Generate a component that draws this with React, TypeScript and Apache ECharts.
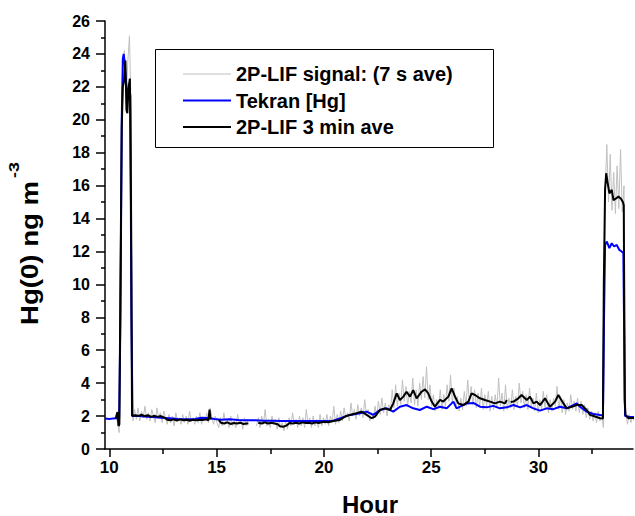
import { useEffect, useRef } from "react";
import * as echarts from "echarts";

const FONT = "'Liberation Sans', Arial, sans-serif";

// x-axis tick labels (hours) and minor tick positions
const xTickHours = [10, 15, 20, 25, 30];
const xMinorHours = [12.5, 17.5, 22.5, 27.5, 32.5];

const seriesNames = ["2P-LIF signal: (7 s ave)", "Tekran [Hg]", "2P-LIF 3 min ave"];
const seriesColors = ["#c0c0c0", "#0000ff", "#000000"];

// 2P-LIF 7 s average record: sampled every greyStep hours from greyStart
const greyStart = 10.3;
const greyStep = 0.08;
const greyValues: (number | null)[] = [
  2.1, 1.6, 1.0, 15.5, 22.5, 24.2, 21.0, 23.5, 25.1, 20.5,
  1.7, 2.4, 1.8, 2.5, 1.7, 2.3, 1.9, 2.6, 1.8, 2.2,
  1.7, 2.4, 2.0, 1.6, 2.5, 1.9, 2.2, 1.6, 2.3, 1.9,
  1.5, 2.1, 1.6, 2.0, 1.4, 2.2, 1.7, 1.9, 1.5, 2.1,
  1.6, 2.0, 1.5, 2.3, 1.7, 1.9, 1.5, 2.0, 1.6, 2.2,
  1.5, 1.9, 1.7, 2.2, 1.6, 2.5, 1.9, 1.5, 2.0, 1.6,
  1.3, 1.9, 1.4, 2.2, 1.5, 1.8, 1.3, 2.0, 1.4, 1.7,
  1.3, 2.1, 1.5, 1.8, 1.2, 1.9, 1.4, 1.8, null, null,
  null, null, 1.4, 1.9, 1.3, 2.0, 1.5, 2.4, 1.4, 1.8,
  1.3, 2.0, 1.5, 1.8, 1.2, 1.9, 1.3, 1.6, 1.1, 1.7,
  1.2, 1.9, 1.4, 2.2, 1.5, 1.8, 1.3, 2.0, 1.4, 1.9,
  1.3, 2.4, 1.5, 1.9, 1.3, 2.0, 1.4, 1.8, 1.3, 2.1,
  1.4, 1.9, 1.5, 2.1, 1.4, 2.0, 1.6, 2.6, 1.5, 2.1,
  1.6, 2.3, 1.7, 2.5, 1.9, 2.2, 1.7, 2.8, 2.0, 2.4,
  1.8, 2.7, 2.0, 2.5, 1.9, 3.0, 2.1, 2.4, 1.7, 2.2,
  1.8, 2.6, 2.0, 2.9, 2.1, 3.1, 2.2, 2.8, 2.0, 2.7,
  2.3, 3.6, 2.5, 3.9, 2.6, 3.4, 2.7, 4.2, 2.9, 3.8,
  2.6, 3.5, 2.8, 4.3, 2.7, 3.6, 2.6, 4.0, 3.0, 4.4,
  3.1, 5.0, 3.0, 3.9, 2.6, 3.3, 2.3, 3.0, 2.5, 3.6,
  2.4, 3.3, 2.6, 3.9, 2.9, 4.5, 2.8, 3.7, 2.5, 3.2,
  2.3, 3.1, 2.4, 3.5, 2.6, 4.2, 2.8, 3.8, 2.7, 3.6,
  2.5, 3.4, 2.6, 3.7, 2.4, 3.3, 2.6, 3.5, 2.3, 3.2,
  2.4, 3.3, 2.5, 4.3, 2.6, 3.4, 2.3, 3.9, 2.4, 3.1,
  2.5, 3.6, 2.4, 3.2, 2.6, 4.0, 2.8, 3.5, 2.5, 3.3,
  2.4, 3.7, 2.6, 3.1, 2.3, 3.4, 2.2, 3.0, 2.4, 3.5,
  2.5, 3.3, 2.2, 3.0, 2.3, 3.1, 2.6, 3.8, 2.4, 3.2,
  2.2, 3.0, 2.1, 2.8, 2.3, 3.3, 2.4, 2.9, 2.3, 3.1,
  2.2, 2.9, 2.1, 2.7, 1.9, 2.5, 1.8, 2.3, 1.7, 2.2,
  1.6, 2.3, 1.7, 2.1, 1.3, 15.5, 18.5, 15.0, 17.9, 14.5,
  16.8, 14.3, 17.2, 14.6, 18.2, 14.4, 16.0, 2.3, 1.5, 2.1,
  1.6, 2.0, 1.7,
];

// Tekran [Hg]: [hour, ng m^-3]
const tekran: [number, number | null][] = [
  [9.8, 1.85], [10.0, 1.82], [10.2, 1.86], [10.4, 1.88], [10.46, 1.85], [10.52, 8.0],
  [10.58, 20.0], [10.63, 23.7], [10.67, 24.0], [10.71, 23.6], [10.76, 22.6], [10.84, 21.5],
  [10.92, 22.0], [10.98, 21.5], [11.03, 8.0], [11.08, 2.0], [11.3, 2.02], [11.6, 1.98],
  [12.0, 1.95], [12.4, 1.9], [12.8, 1.87], [13.2, 1.82], [13.6, 1.8], [14.0, 1.82],
  [14.3, 1.9], [14.6, 1.88], [14.9, 1.82], [15.2, 1.78], [15.6, 1.8], [16.0, 1.76],
  [16.4, 1.75], [16.8, 1.74], [17.2, 1.72], [17.6, 1.72], [18.0, 1.7], [18.4, 1.7],
  [18.88, 1.7], [19.66, 1.7], [20.43, 1.72], [20.74, 1.86], [21.21, 2.07], [21.68, 2.17],
  [21.99, 2.27], [22.3, 2.07], [22.61, 2.37], [22.92, 2.47], [23.23, 2.27], [23.54, 2.57],
  [23.85, 2.67], [24.16, 2.47], [24.47, 2.37], [24.79, 2.57], [25.1, 2.42], [25.41, 2.57],
  [25.72, 2.47], [26.03, 2.88], [26.18, 2.47], [26.34, 2.57], [26.65, 2.77], [26.96, 2.8],
  [27.27, 2.57], [27.58, 2.53], [27.89, 2.62], [28.2, 2.47], [28.52, 2.53], [28.83, 2.67],
  [29.14, 2.53], [29.45, 2.67], [29.76, 2.47], [30.07, 2.33], [30.38, 2.47], [30.69, 2.42],
  [30.99, 2.57], [31.31, 2.47], [31.62, 2.67], [31.78, 2.77], [31.93, 2.57], [32.24, 2.27],
  [32.56, 2.13], [32.87, 2.07], [33.0, 2.05], [33.05, 8.0], [33.1, 12.4], [33.18, 12.6],
  [33.3, 12.2], [33.41, 12.5], [33.52, 12.3], [33.64, 12.4], [33.76, 12.1], [33.87, 12.0],
  [33.95, 11.9], [33.99, 7.0], [34.03, 2.0], [34.2, 1.96], [34.45, 1.95],
];

// 2P-LIF 3 min average: [hour, ng m^-3] (null = gap in record)
const lif3min: [number, number | null][] = [
  [10.3, 1.85], [10.38, 2.25], [10.43, 1.4], [10.47, 1.5], [10.52, 10.0], [10.58, 19.5],
  [10.63, 22.0], [10.69, 22.4], [10.75, 23.6], [10.8, 20.6], [10.84, 20.4], [10.9, 22.0],
  [10.96, 22.5], [11.01, 15.0], [11.06, 2.0], [11.2, 2.05], [11.35, 2.0], [11.5, 2.08],
  [11.65, 2.0], [11.8, 2.05], [11.95, 1.95], [12.1, 2.02], [12.25, 1.95], [12.4, 2.0],
  [12.55, 1.92], [12.7, 1.78], [12.85, 1.75], [13.0, 1.8], [13.15, 1.72], [13.3, 1.8],
  [13.45, 1.75], [13.6, 1.78], [13.75, 1.72], [13.9, 1.78], [14.05, 1.74], [14.2, 1.78],
  [14.35, 1.76], [14.5, 1.8], [14.62, 1.75], [14.67, 2.4], [14.72, 1.8], [14.78, null],
  [15.1, 1.75], [15.2, 1.6], [15.35, 1.55], [15.5, 1.62], [15.65, 1.52], [15.8, 1.58],
  [15.95, 1.55], [16.1, 1.6], [16.25, 1.52], [16.4, 1.55], [16.48, 1.55], [16.6, null],
  [16.94, 1.6], [17.1, 1.55], [17.25, 1.62], [17.4, 1.55], [17.55, 1.6], [17.7, 1.55],
  [17.85, 1.5], [17.95, 1.38], [18.1, 1.35], [18.25, 1.42], [18.4, 1.58], [18.55, 1.55],
  [18.7, 1.6], [18.85, 1.55], [19.0, 1.62], [19.15, 1.58], [19.3, 1.6], [19.45, 1.55],
  [19.6, 1.62], [19.75, 1.58], [19.9, 1.62], [20.05, 1.65], [20.2, 1.62], [20.43, 1.7],
  [20.74, 1.76], [20.98, 1.97], [21.21, 2.07], [21.52, 2.17], [21.75, 2.27], [21.99, 2.07],
  [22.22, 1.87], [22.38, 1.97], [22.61, 2.37], [22.84, 2.47], [23.08, 2.37], [23.23, 2.77],
  [23.39, 3.38], [23.54, 2.98], [23.7, 3.18], [23.85, 3.48], [24.01, 3.18], [24.16, 3.58],
  [24.32, 3.08], [24.55, 3.48], [24.71, 3.62], [24.86, 3.38], [25.02, 2.88], [25.17, 2.57],
  [25.41, 2.98], [25.56, 2.88], [25.8, 3.18], [25.95, 3.68], [26.11, 3.18], [26.26, 2.77],
  [26.49, 2.67], [26.73, 2.88], [26.88, 3.38], [27.04, 3.28], [27.27, 3.08], [27.5, 2.98],
  [27.74, 2.88], [27.97, 2.77], [28.2, 2.88], [28.44, 2.77], [28.52, 2.98], [28.58, null],
  [28.7, 2.85], [28.83, 2.88], [29.06, 3.08], [29.21, 3.28], [29.45, 2.98], [29.6, 3.18],
  [29.76, 2.77], [29.91, 2.88], [30.07, 2.67], [30.3, 3.08], [30.53, 2.57], [30.77, 2.88],
  [30.92, 3.28], [31.16, 2.77], [31.31, 2.47], [31.55, 2.57], [31.78, 2.67], [32.01, 2.67],
  [32.24, 2.37], [32.4, 2.07], [32.63, 1.97], [32.87, 1.87], [33.0, 1.85], [33.04, 10.0],
  [33.1, 15.8], [33.15, 16.75], [33.21, 16.24], [33.3, 15.53], [33.41, 15.74], [33.49, 15.12],
  [33.61, 15.22], [33.72, 15.33], [33.83, 15.22], [33.93, 15.0], [33.97, 14.8], [34.01, 3.0],
  [34.05, 2.07], [34.19, 1.86], [34.32, 1.9], [34.45, 1.88],
];

export default function App() {
  const ref = useRef<HTMLDivElement>(null);

  useEffect(() => {
    if (!ref.current) return;
    const chart = echarts.init(ref.current, null, { renderer: "svg" });
    const greyData = greyValues.map((v, i) => [
      Math.round((greyStart + i * greyStep) * 1000) / 1000,
      v,
    ]);
    const axisLine = { color: "#000", width: 1.5 };
    const legendIcons = [
      "path://M0,0H48V1H0Z",
      "path://M0,0H48V2H0Z",
      "path://M0,0H48V2H0Z",
    ];
    chart.setOption({
      animation: false,
      backgroundColor: "#fff",
      grid: { left: 105, right: 2, top: 21, bottom: 67, containLabel: false },
      xAxis: [
        {
          type: "value",
          min: 9.8,
          max: 34.4,
          position: "bottom",
          axisLine: { show: true, onZero: false, lineStyle: axisLine },
          axisTick: { show: true, length: 8, lineStyle: axisLine, customValues: xTickHours },
          axisLabel: {
            customValues: xTickHours,
            fontSize: 17,
            fontWeight: "bold",
            fontFamily: FONT,
            color: "#000",
            margin: 10,
          },
          splitLine: { show: false },
        },
        {
          type: "value",
          min: 9.8,
          max: 34.4,
          position: "bottom",
          offset: 0,
          axisLine: { show: false, onZero: false },
          axisTick: { show: true, length: 5, lineStyle: axisLine, customValues: xMinorHours },
          axisLabel: { show: false },
          splitLine: { show: false },
        },
      ],
      yAxis: {
        type: "value",
        min: 0,
        max: 26,
        interval: 2,
        axisLine: { show: true, onZero: false, lineStyle: axisLine },
        axisTick: { show: true, length: 9, lineStyle: axisLine },
        minorTick: { show: true, splitNumber: 2, length: 4, lineStyle: axisLine },
        axisLabel: {
          fontSize: 16,
          fontWeight: "bold",
          fontFamily: FONT,
          color: "#000",
          margin: 15,
        },
        splitLine: { show: false },
        minorSplitLine: { show: false },
      },
      legend: {
        orient: "vertical",
        left: 183,
        top: 64,
        padding: 0,
        itemWidth: 48,
        itemHeight: 14,
        itemGap: 6.5,
        symbolKeepAspect: true,
        z: 10,
        textStyle: {
          fontSize: 20,
          fontWeight: "bold",
          fontFamily: FONT,
          color: "#000",
          lineHeight: 20,
        },
        data: seriesNames.map((name, i) => ({
          name,
          icon: legendIcons[i],
          itemStyle: { color: seriesColors[i], borderWidth: 0 },
        })),
      },
      graphic: [
        {
          type: "rect",
          z: 5,
          shape: { x: 155.5, y: 49.5, width: 338, height: 98 },
          style: { fill: "#fff", stroke: "#000", lineWidth: 1 },
        },
        {
          type: "text",
          x: 370,
          y: 504,
          style: {
            text: "Hour",
            fontSize: 24,
            fontWeight: "bold",
            fontFamily: FONT,
            fill: "#000",
            align: "center",
            verticalAlign: "middle",
          },
        },
        {
          type: "group",
          x: 30,
          y: 325,
          rotation: Math.PI / 2,
          children: [
            {
              type: "text",
              x: 0,
              y: 0,
              scaleX: 1.2,
              style: {
                text: "Hg(0) ng m",
                fontSize: 23,
                fontWeight: "bold",
                fontFamily: FONT,
                fill: "#000",
                align: "left",
                verticalAlign: "middle",
              },
            },
            {
              type: "text",
              x: 147,
              y: -16,
              scaleX: 1.2,
              style: {
                text: "-3",
                fontSize: 15,
                fontWeight: "bold",
                fontFamily: FONT,
                fill: "#000",
                align: "left",
                verticalAlign: "middle",
              },
            },
          ],
        },
      ],
      series: [
        {
          name: seriesNames[0],
          type: "line",
          data: greyData,
          symbol: "none",
          connectNulls: false,
          lineStyle: { color: seriesColors[0], width: 1 },
          itemStyle: { color: seriesColors[0] },
          z: 1,
        },
        {
          name: seriesNames[1],
          type: "line",
          data: tekran,
          symbol: "none",
          connectNulls: false,
          lineStyle: { color: seriesColors[1], width: 2 },
          itemStyle: { color: seriesColors[1] },
          z: 2,
        },
        {
          name: seriesNames[2],
          type: "line",
          data: lif3min,
          symbol: "none",
          connectNulls: false,
          lineStyle: { color: seriesColors[2], width: 2 },
          itemStyle: { color: seriesColors[2] },
          z: 3,
        },
      ],
    });
    return () => chart.dispose();
  }, []);

  return (
    <div
      ref={ref}
      style={{ position: "absolute", left: 0, top: 0, width: 635, height: 516 }}
    />
  );
}
